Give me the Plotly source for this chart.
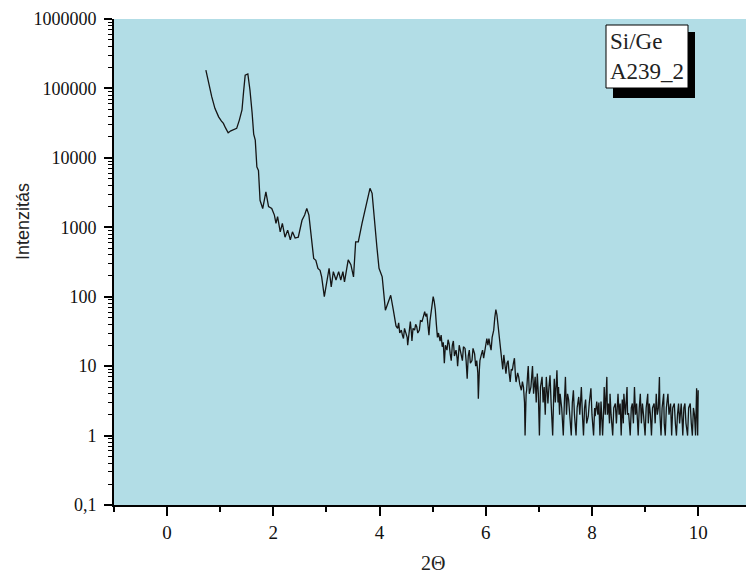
import plotly.graph_objects as go

# 2Theta values (degrees)
two_theta = [
    0.73, 0.78, 0.84, 0.90, 0.97, 1.02, 1.06, 1.10, 1.15, 1.20, 1.25, 1.31, 1.36, 1.41, 1.44, 1.47,
    1.52, 1.56, 1.60, 1.63, 1.66, 1.69, 1.72, 1.75, 1.80, 1.86, 1.91, 1.97, 2.02, 2.05, 2.08, 2.13,
    2.17, 2.22, 2.27, 2.32, 2.36, 2.41, 2.47, 2.54, 2.59, 2.63, 2.67, 2.72, 2.76, 2.80, 2.84, 2.88,
    2.91, 2.96, 3.01, 3.05, 3.09, 3.13, 3.18, 3.23, 3.27, 3.31, 3.34, 3.38, 3.41, 3.46, 3.51, 3.55,
    3.60, 3.67, 3.73, 3.78, 3.82, 3.86, 3.90, 3.95, 3.99, 4.05, 4.11, 4.16, 4.21, 4.26, 4.28, 4.29,
    4.31, 4.34, 4.36, 4.38, 4.41, 4.43, 4.45, 4.47, 4.50, 4.52, 4.53, 4.55, 4.58, 4.60, 4.61, 4.63,
    4.66, 4.68, 4.70, 4.72, 4.75, 4.77, 4.80, 4.82, 4.85, 4.87, 4.89, 4.91, 4.93, 4.95, 4.98, 5.01,
    5.03, 5.05, 5.07, 5.09, 5.11, 5.14, 5.16, 5.18, 5.20, 5.22, 5.24, 5.27, 5.29, 5.31, 5.33, 5.35,
    5.37, 5.39, 5.41, 5.44, 5.46, 5.47, 5.50, 5.52, 5.54, 5.56, 5.58, 5.61, 5.63, 5.65, 5.67, 5.69,
    5.71, 5.74, 5.76, 5.79, 5.81, 5.83, 5.85, 5.86, 5.88, 5.89, 5.92, 5.94, 5.96, 5.99, 6.01, 6.02,
    6.04, 6.06, 6.08, 6.10, 6.12, 6.15, 6.17, 6.19, 6.21, 6.22, 6.25, 6.27, 6.30, 6.32, 6.34, 6.36,
    6.38, 6.40, 6.42, 6.44, 6.46, 6.48, 6.50, 6.52, 6.54, 6.56, 6.57, 6.60, 6.62, 6.64, 6.67, 6.69,
    6.71, 6.73, 6.74, 6.76, 6.77, 6.79, 6.80, 6.82, 6.85, 6.87, 6.88, 6.90, 6.93, 6.95, 6.97, 6.99,
    7.01, 7.03, 7.06, 7.08, 7.10, 7.12, 7.14, 7.16, 7.17, 7.19, 7.21, 7.23, 7.26, 7.28, 7.29, 7.31,
    7.34, 7.36, 7.37, 7.39, 7.40, 7.43, 7.46, 7.48, 7.50, 7.52, 7.54, 7.56, 7.58, 7.61, 7.63, 7.65,
    7.67, 7.70, 7.72, 7.75, 7.77, 7.80, 7.82, 7.84, 7.86, 7.88, 7.90, 7.93, 7.95, 7.98, 8.00, 8.03,
    8.05, 8.06, 8.09, 8.11, 8.13, 8.15, 8.17, 8.20, 8.22, 8.23, 8.25, 8.28, 8.29, 8.31, 8.33, 8.34,
    8.36, 8.39, 8.41, 8.44, 8.46, 8.49, 8.51, 8.53, 8.55, 8.57, 8.59, 8.60, 8.63, 8.66, 8.67, 8.69,
    8.72, 8.74, 8.76, 8.78, 8.80, 8.82, 8.84, 8.87, 8.89, 8.91, 8.93, 8.95, 8.97, 9.00, 9.02, 9.05,
    9.06, 9.08, 9.10, 9.12, 9.14, 9.17, 9.19, 9.21, 9.23, 9.25, 9.27, 9.28, 9.30, 9.32, 9.35, 9.36,
    9.38, 9.40, 9.43, 9.45, 9.48, 9.49, 9.50, 9.52, 9.55, 9.57, 9.59, 9.61, 9.63, 9.65, 9.68, 9.70,
    9.71, 9.73, 9.75, 9.77, 9.80, 9.82, 9.85, 9.87, 9.89, 9.91, 9.93, 9.95, 9.97, 9.99, 10.00,
]

# Intensity values (counts)
intensity = [
    184000, 118000, 76000, 51700, 39000, 34000, 31400, 27000, 23000, 24500, 25700, 26600, 35000, 49000, 90000, 155000,
    162000, 95000, 45000, 22000, 18000, 7400, 6600, 2450, 1860, 3230, 1990, 1870, 1500, 1140, 1420, 860,
    1140, 720, 910, 660, 860, 700, 720, 1260, 1500, 1870, 1500, 720, 355, 335, 255, 240,
    193, 100, 174, 257, 138, 230, 174, 230, 174, 230, 163, 270, 340, 290, 193, 615,
    615, 1140, 1780, 2460, 3640, 3080, 1260, 520, 257, 193, 64, 85, 105, 64, 50, 44,
    38, 35, 42, 30, 33, 28, 25, 35, 30, 26, 20, 30, 44, 30, 23, 35,
    33, 40, 37, 30, 33, 45, 44, 50, 61, 52, 57, 40, 28, 45, 65, 100,
    85, 65, 40, 26, 30, 23, 28, 19, 22, 11, 20, 17, 24, 21, 15, 12,
    20, 23, 14, 17, 13, 10, 20, 17, 14, 12, 19, 18, 12, 6.6, 14, 17,
    11, 12, 18, 15, 10, 12, 8, 3.4, 9, 12, 15, 17, 13, 18, 22, 25,
    20, 25, 20, 17, 26, 33, 50, 65, 55, 46, 30, 21, 13, 9, 14.5, 10,
    7.8, 11, 12, 8, 5.9, 9, 8.7, 11, 13, 7, 5.9, 8, 7, 5.5, 4.5, 6,
    5, 3, 1, 4, 4.5, 8, 10, 4, 5, 8, 10, 4, 7, 3, 7.8, 4,
    1, 5, 7, 3, 5, 2, 7, 4, 2.9, 5, 7.4, 3, 1, 4, 6.6, 3,
    8.7, 3, 5, 2, 4, 2.5, 1, 3, 7, 2, 4, 3.3, 2, 1, 3, 4.5,
    2, 1, 2.5, 3.6, 2, 5, 2, 1, 2.5, 3.3, 1.5, 1.9, 3, 4.8, 2, 1,
    2.5, 1.9, 3.1, 2, 3, 1, 3.1, 1, 2.5, 5, 2, 7, 2, 2.9, 1.5, 4,
    2, 1, 2.5, 2.9, 1.5, 4, 2, 2.9, 1, 3.3, 1.5, 4, 2, 5, 2, 2.1,
    1, 2.5, 2.9, 1.5, 5, 2, 2.9, 1, 2.5, 4, 1.5, 2.9, 2, 1, 2.5, 4,
    1.5, 2.9, 2, 1, 2.5, 2.9, 1.5, 4, 2, 2.5, 7, 2, 1, 2.5, 4, 1.5,
    1, 2.5, 4, 2, 2.9, 1.5, 1, 2.5, 2.9, 1.5, 1, 2, 2.9, 1.5, 2.9, 1.5,
    1, 2.5, 2.9, 1.5, 1, 2.5, 2.9, 1.5, 1, 2.5, 2, 1, 4.8, 1, 4.5,
]

y_tick_vals = [0.1, 1, 10, 100, 1000, 10000, 100000, 1000000]
y_tick_text = ["0,1", "1", "10", "100", "1000", "10000", "100000", "1000000"]
x_tick_vals = [0, 2, 4, 6, 8, 10]
legend_lines = ["Si/Ge", "A239_2"]

W, H = 746, 573
L, R, T, B = 114, 0, 19, 68
pw, ph = W - L - R, H - T - B


def px_x(p):
    return (p - L) / pw


def px_y(p):
    return (H - B - p) / ph


minor_y = [m * 10 ** k for k in range(-1, 6) for m in range(2, 10)]

fig = go.Figure()
fig.add_trace(go.Scatter(
    x=two_theta, y=intensity, mode="lines",
    line=dict(color="#151515", width=1.3),
    showlegend=False, hoverinfo="skip",
))

serif = "Liberation Serif"

fig.update_layout(
    width=W, height=H,
    margin=dict(l=L, r=R, t=T, b=B, pad=0),
    paper_bgcolor="white",
    plot_bgcolor="#B2DDE6",
    showlegend=False,
    xaxis=dict(
        range=[-1.0, 10.9],
        tickvals=x_tick_vals,
        ticks="outside", ticklen=9, tickwidth=1.5, tickcolor="black",
        minor=dict(ticks="outside", ticklen=5, tickwidth=1.5, tickcolor="black", dtick=1, tick0=0),
        showline=True, linewidth=2, linecolor="black",
        showgrid=False, zeroline=False,
        tickfont=dict(family=serif, size=19, color="#111"),
    ),
    yaxis=dict(
        type="log",
        range=[-1, 6],
        tickvals=y_tick_vals, ticktext=y_tick_text,
        ticks="outside", ticklen=8, tickwidth=1.5, tickcolor="black",
        minor=dict(ticks="outside", ticklen=4, tickwidth=1, tickcolor="black", tickvals=minor_y),
        showline=True, linewidth=2, linecolor="black",
        showgrid=False, zeroline=False,
        ticklabelstandoff=4,
        tickfont=dict(family=serif, size=18, color="#111"),
    ),
)

# axis titles
fig.add_annotation(
    text="Intenzitás", xref="paper", yref="paper",
    x=px_x(23), y=px_y(222), xanchor="center", yanchor="middle",
    textangle=-90, showarrow=False,
    font=dict(family="Liberation Sans", size=18, color="#222"),
)
fig.add_annotation(
    text="2Θ", xref="paper", yref="paper",
    x=px_x(433), y=px_y(563), xanchor="center", yanchor="middle",
    showarrow=False,
    font=dict(family=serif, size=20, color="#222"),
)

# label box with shadow
fig.add_shape(type="rect", xref="paper", yref="paper",
              x0=px_x(613), x1=px_x(695), y0=px_y(98), y1=px_y(32),
              fillcolor="black", line=dict(width=0))
fig.add_shape(type="rect", xref="paper", yref="paper",
              x0=px_x(606), x1=px_x(688), y0=px_y(88), y1=px_y(25),
              fillcolor="white", line=dict(color="black", width=1))
fig.add_annotation(
    text="<br>".join(legend_lines), xref="paper", yref="paper",
    x=px_x(608), y=px_y(57), xanchor="left", yanchor="middle", align="left",
    showarrow=False,
    font=dict(family=serif, size=23, color="#222"),
)

fig.write_html("out.html")
